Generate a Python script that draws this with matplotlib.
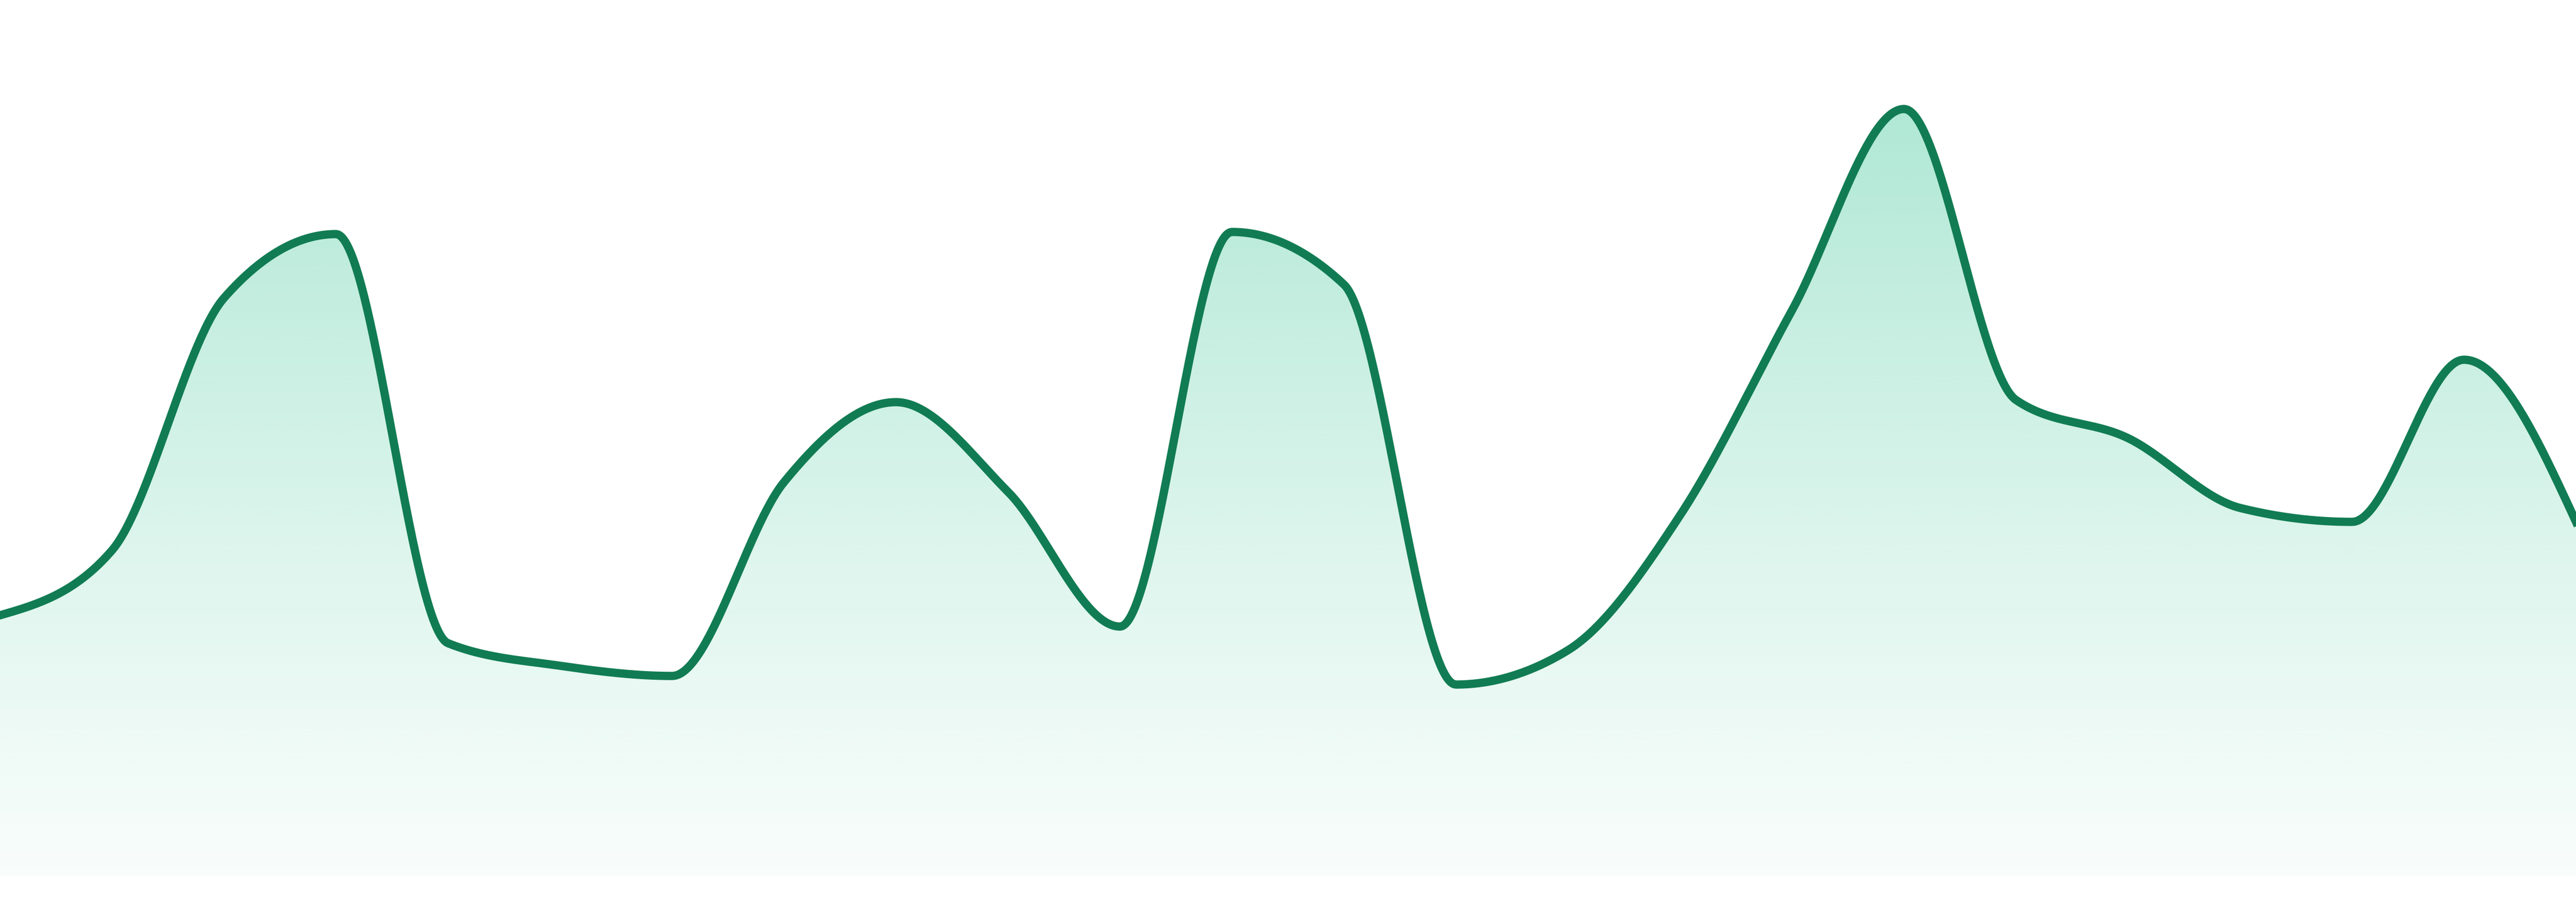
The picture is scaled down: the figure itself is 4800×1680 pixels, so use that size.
import numpy as np
import matplotlib
matplotlib.use("Agg")
import matplotlib.pyplot as plt
from matplotlib.patches import Polygon
from matplotlib.colors import to_rgb

# one value per step (height above the baseline)
steps = list(range(24))
values = [48.6, 60.7, 107.7, 119.6, 43.4, 39.2, 37.3, 73.4, 88.3, 71.6, 46.5, 120.0,
          110.2, 35.7, 42.1, 67.2, 105.4, 142.9, 88.7, 81.6, 68.6, 66.0, 96.2, 66.0]

line_color = "#117c53"
fill_color = "#10b981"


def monotone_curve(x, y, n=60):
    # same idea as d3 curveMonotoneX
    x = np.asarray(x, float)
    y = np.asarray(y, float)
    h = np.diff(x)
    s = np.diff(y) / h
    t = np.zeros_like(y)
    for i in range(1, len(x) - 1):
        s0, s1 = s[i - 1], s[i]
        p = (s0 * h[i] + s1 * h[i - 1]) / (h[i - 1] + h[i])
        t[i] = (np.sign(s0) + np.sign(s1)) * min(abs(s0), abs(s1), 0.5 * abs(p))
    t[0] = (3 * s[0] - t[1]) / 2
    t[-1] = (3 * s[-1] - t[-2]) / 2
    xs, ys = [], []
    for i in range(len(x) - 1):
        u = np.linspace(0, 1, n, endpoint=(i == len(x) - 2))
        dx = h[i]
        h00 = 2 * u**3 - 3 * u**2 + 1
        h10 = u**3 - 2 * u**2 + u
        h01 = -2 * u**3 + 3 * u**2
        h11 = u**3 - u**2
        xs.append(x[i] + u * dx)
        ys.append(h00 * y[i] + h10 * dx * t[i] + h01 * y[i + 1] + h11 * dx * t[i + 1])
    return np.concatenate(xs), np.concatenate(ys)


xs, ys = monotone_curve(steps, values)

fig = plt.figure(figsize=(16, 5.6), dpi=300)
ax = fig.add_axes([0, 0, 1, 1])
ax.set_xlim(steps[0], steps[-1])
ax.set_ylim(-4.8, 163.2)
ax.axis("off")

# gradient fill under the line
top = 146.0
grad = np.linspace(0, 1, 256).reshape(-1, 1)
rgba = np.zeros((256, 1, 4))
rgba[..., :3] = to_rgb(fill_color)
rgba[..., 3] = 0.03 + (0.34 - 0.03) * grad ** 1.15
im = ax.imshow(rgba, extent=[steps[0], steps[-1], 0, top], origin="lower",
               aspect="auto", interpolation="bilinear", zorder=1)
clip = Polygon(np.column_stack([np.r_[xs, xs[-1], xs[0]], np.r_[ys, 0, 0]]),
               closed=True, facecolor="none", edgecolor="none")
ax.add_patch(clip)
im.set_clip_path(clip)

ax.plot(xs, ys, color=line_color, lw=3.7, solid_joinstyle="round", zorder=2)

fig.savefig("out.png", dpi=300, facecolor="white")
